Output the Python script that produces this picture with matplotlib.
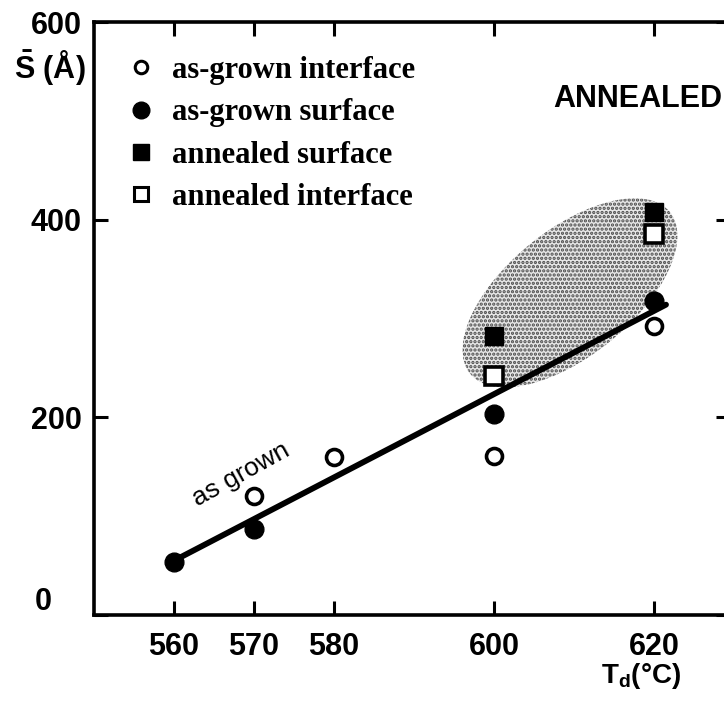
import numpy as np
import matplotlib
matplotlib.use("Agg")
import matplotlib.pyplot as plt
from matplotlib.lines import Line2D
from matplotlib.patches import Ellipse
from matplotlib.transforms import IdentityTransform, ScaledTranslation, offset_copy

# data
td_asgrown_int = [570, 580, 600, 620]
s_asgrown_int = [120, 160, 161, 292]
td_asgrown_surf = [560, 570, 600, 620]
s_asgrown_surf = [54, 87, 203, 318]
td_ann_surf = [600, 620]
s_ann_surf = [282, 408]
td_ann_int = [600, 620]
s_ann_int = [242, 386]
fit_td = [560, 621.5]
fit_s = [55, 314]

xticks = [560, 570, 580, 600, 620]
yticks = [0, 200, 400, 600]

# shaded "annealed" region (centre in data units, axes in pixels)
shade_center = (609.5, 326)
shade_axes = (257, 126)
shade_angle = 39

sans = "Liberation Sans"
serif = "Liberation Serif"
plt.rcParams["mathtext.fontset"] = "custom"
plt.rcParams["mathtext.rm"] = "Liberation Sans:bold"
plt.rcParams["hatch.linewidth"] = 1.6

fig = plt.figure(figsize=(7.24, 7.03), dpi=100)
ax = fig.add_axes([94 / 724, 88 / 703, 636 / 724, 593 / 703])
ax.set_xlim(550, 629.5)
ax.set_ylim(0, 600)

blob = Ellipse((0, 0), shade_axes[0], shade_axes[1], angle=shade_angle,
               transform=IdentityTransform() + ScaledTranslation(*shade_center, ax.transData),
               facecolor="#e6e6e6", edgecolor="#4a4a4a", hatch="....", lw=0, zorder=1)
ax.add_patch(blob)

ax.plot(fit_td, fit_s, color="black", lw=4.2, solid_capstyle="round", zorder=2)

ax.plot(td_asgrown_int, s_asgrown_int, "o", ms=11.5, mfc="white", mec="black", mew=2.6, ls="none", zorder=3)
ax.plot(td_asgrown_surf, s_asgrown_surf, "o", ms=13.5, mfc="black", mec="black", ls="none", zorder=3)
ax.plot(td_ann_surf, s_ann_surf, "s", ms=13.5, mfc="black", mec="black", ls="none", zorder=3)
ax.plot(td_ann_int, s_ann_int, "s", ms=12.5, mfc="white", mec="black", mew=2.6, ls="none", zorder=3)

handles = [
    Line2D([], [], marker="o", ls="none", ms=9, mfc="white", mec="black", mew=2.2),
    Line2D([], [], marker="o", ls="none", ms=12, mfc="black", mec="black"),
    Line2D([], [], marker="s", ls="none", ms=11, mfc="black", mec="black"),
    Line2D([], [], marker="s", ls="none", ms=10, mfc="white", mec="black", mew=2.2),
]
labels = ["as-grown interface", "as-grown surface", "annealed surface", "annealed interface"]
ax.legend(handles, labels, loc="upper left", bbox_to_anchor=(0.05, 0.943), frameon=False,
          borderpad=0, borderaxespad=0, handlelength=1.0, handletextpad=0.5, labelspacing=0.44,
          prop={"family": serif, "weight": "bold", "size": 22})

ax.text(618, 522, "ANNEALED", ha="center", va="center", fontsize=22,
        family=sans, weight="bold")
ax.text(568.4, 142, "as grown", ha="center", va="center", rotation=29,
        rotation_mode="anchor", fontsize=19, family=sans)

ax.set_xticks(xticks)
ax.set_yticks(yticks)
ax.tick_params(direction="in", length=10, width=2.2, top=True, right=True,
               labelsize=22, pad=9)
ax.tick_params(axis="x", pad=12)
for lab in ax.get_xticklabels() + ax.get_yticklabels():
    lab.set_family(sans)
    lab.set_weight("bold")
zero = ax.get_yticklabels()[0]
zero.set_transform(offset_copy(zero.get_transform(), fig=fig, x=-30, y=17, units="dots"))

for sp in ax.spines.values():
    sp.set_linewidth(2.6)

fig.text(50 / 724, 1 - 68 / 703, r"$\bar{\mathrm{S}}$ (Å)", ha="center", va="center",
         fontsize=22, family=sans, weight="bold")
fig.text(641 / 724, 1 - 676 / 703, r"T$_\mathregular{d}$(°C)", ha="center", va="center",
         fontsize=20, family=sans, weight="bold")

fig.savefig("out.png", dpi=100)
